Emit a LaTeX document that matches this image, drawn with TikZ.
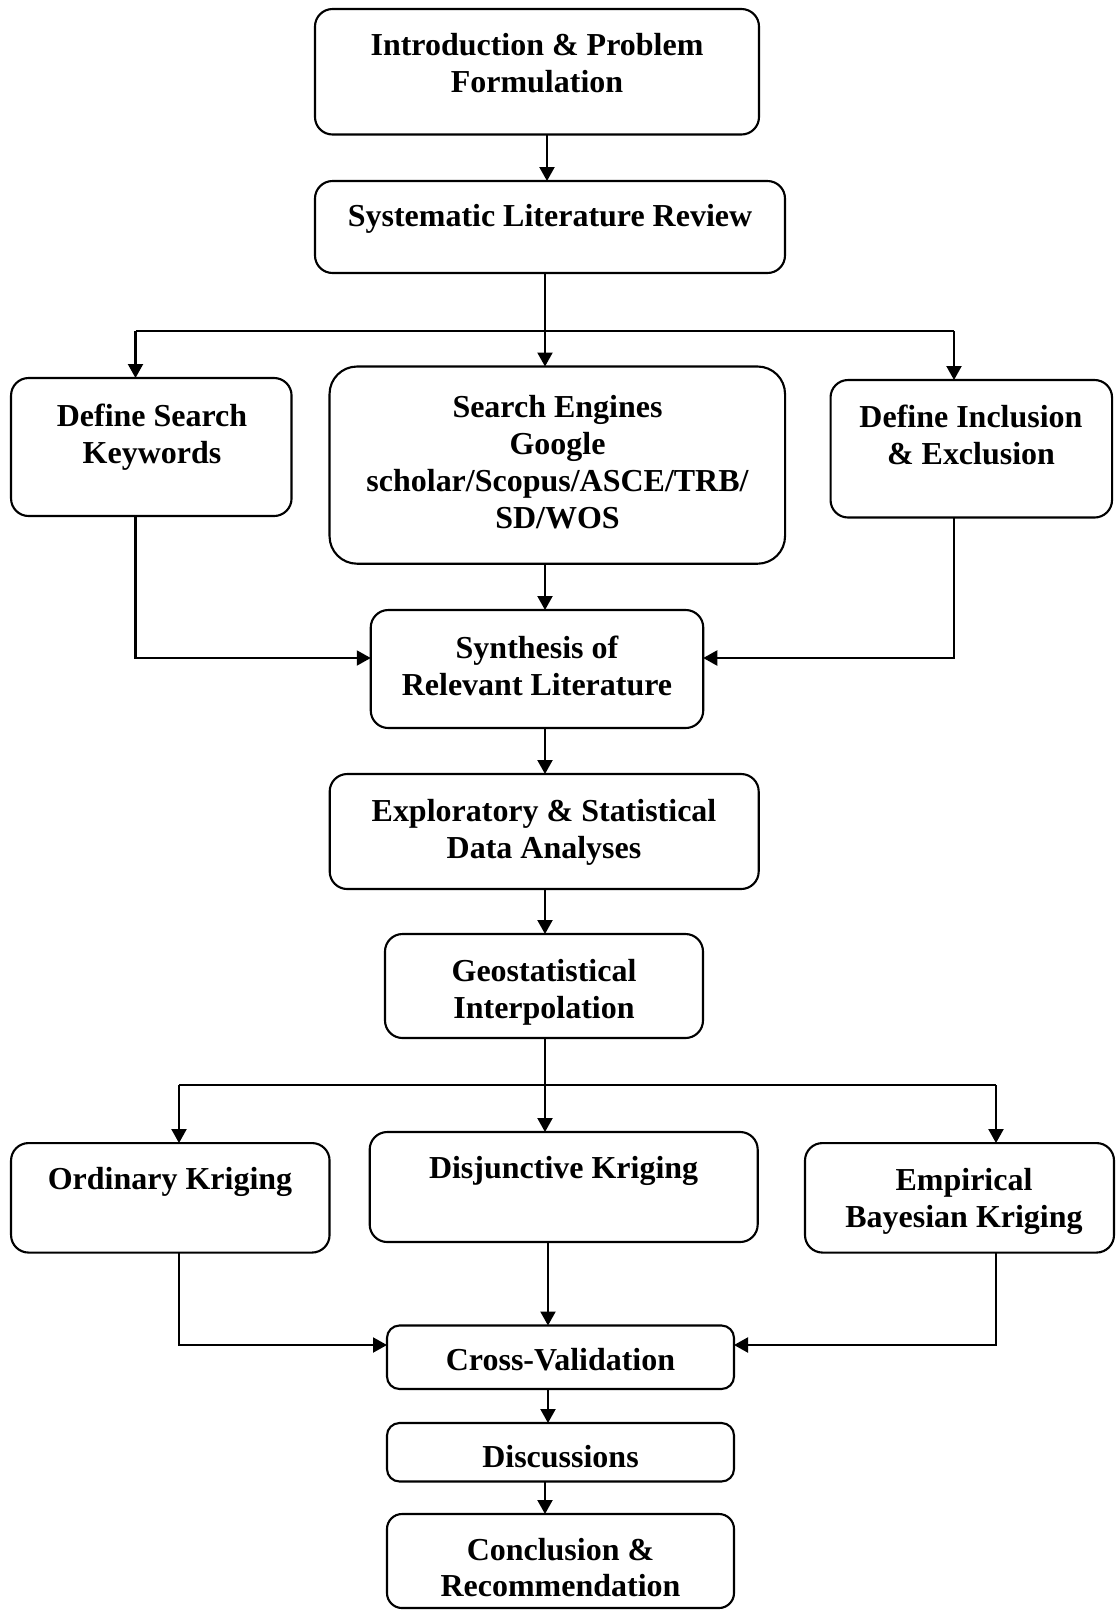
\documentclass[tikz,border=0pt]{standalone}
\usepackage{fontspec}
\setmainfont{Liberation Serif}
\usetikzlibrary{arrows.meta, positioning}

\tikzset{
  box/.style={draw, rounded corners=0.35cm, line width=1.2pt, inner sep=0pt, outer sep=0pt},
  txt/.style={align=center, inner sep=0pt, font=\fontsize{18.2}{21}\selectfont\bfseries},
  arr/.style={-{Triangle[length=0.28cm, width=0.3cm]}, line width=1.2pt},
  ln/.style={line width=1.3pt}
}

\begin{document}
\begin{tikzpicture}[y=-1cm]
        \useasboundingbox (0,0) rectangle (22.32,32.2);

        % boxes
        \node[box, minimum width=8.88cm, minimum height=2.51cm] (intro) at (10.74,1.435) {};
        \node[box, minimum width=9.40cm, minimum height=1.84cm] (slr) at (11.0,4.54) {};
        \node[box, minimum width=5.61cm, minimum height=2.76cm] (keys) at (3.026,8.94) {};
        \node[box, rounded corners=0.55cm, minimum width=9.11cm, minimum height=3.944cm] (engines) at (11.146,9.302) {};
        \node[box, minimum width=5.63cm, minimum height=2.75cm] (incl) at (19.426,8.975) {};
        \node[box, minimum width=6.65cm, minimum height=2.36cm] (synth) at (10.74,13.38) {};
        \node[box, minimum width=8.58cm, minimum height=2.30cm] (explor) at (10.884,16.63) {};
        \node[box, minimum width=6.36cm, minimum height=2.08cm] (geo) at (10.88,19.72) {};
        \node[box, minimum width=6.37cm, minimum height=2.19cm] (ord) at (3.406,23.956) {};
        \node[box, minimum width=7.76cm, minimum height=2.20cm] (disj) at (11.274,23.74) {};
        \node[box, minimum width=6.18cm, minimum height=2.19cm] (emp) at (19.19,23.956) {};
        \node[box, rounded corners=0.25cm, minimum width=6.94cm, minimum height=1.27cm] (cross) at (11.21,27.145) {};
        \node[box, rounded corners=0.25cm, minimum width=6.94cm, minimum height=1.17cm] (disc) at (11.21,29.045) {};
        \node[box, rounded corners=0.3cm, minimum width=6.94cm, minimum height=1.88cm] (concl) at (11.21,31.22) {};

        % texts
        \node[txt] (intro-t) at (10.74,1.27) {Introduction \& Problem\\Formulation};
        \node[txt] (slr-t) at (11.0,4.38) {Systematic Literature Review};
        \node[txt] (keys-t) at (3.04,8.75) {Define Search\\Keywords};
        \node[txt] (engines-t) at (11.15,9.24) {Search Engines\\Google\\scholar/Scopus/ASCE/TRB/\\SD/WOS};
        \node[txt] (incl-t) at (19.42,8.69) {Define Inclusion\\\& Exclusion};
        \node[txt] (synth-t) at (10.74,13.31) {Synthesis of\\Relevant Literature};
        \node[txt] (explor-t) at (10.88,16.64) {Exploratory \& Statistical\\Data Analyses};
        \node[txt] (geo-t) at (10.88,19.85) {Geostatistical\\Interpolation};
        \node[txt] (ord-t) at (3.40,23.635) {Ordinary Kriging};
        \node[txt] (disj-t) at (11.272,23.42) {Disjunctive Kriging};
        \node[txt] (emp-t) at (19.28,24.02) {Empirical\\Bayesian Kriging};
        \node[txt] (cross-t) at (11.21,27.20) {Cross-Validation};
        \node[txt] (disc-t) at (11.21,29.14) {Discussions};
        \node[txt] (concl-t) at (11.21,31.35) {Conclusion \&\\Recommendation};

        % branch points
        \coordinate (colA) at (10.94,0);
        \coordinate (colB) at (10.96,0);
        \coordinate (split1) at (10.90,6.62);
        \coordinate (splitL) at (2.71,6.62);
        \coordinate (splitR) at (19.08,6.62);
        \coordinate (joinY) at (0,13.16);
        \coordinate (split2) at (10.90,21.70);
        \coordinate (split2L) at (3.58,21.70);
        \coordinate (split2R) at (19.92,21.70);
        \coordinate (join2Y) at (0,26.90);

        % connectors
        \draw[arr] (intro.south -| colA) -- (slr.north -| colA);
        \draw[ln] (slr.south -| split1) -- (split1);
        \draw[ln] (splitL) -- (splitR);
        \draw[arr] (splitL) -- (keys.north -| splitL);
        \draw[arr] (split1) -- (engines.north -| split1);
        \draw[arr] (splitR) -- (incl.north -| splitR);
        \draw[arr] (keys.south -| splitL) |- (synth.west |- joinY);
        \draw[arr] (incl.south -| splitR) |- (synth.east |- joinY);
        \draw[arr] (engines.south -| split1) -- (synth.north -| split1);
        \draw[arr] (synth.south -| split1) -- (explor.north -| split1);
        \draw[arr] (explor.south -| split1) -- (geo.north -| split1);
        \draw[ln] (geo.south -| split2) -- (split2);
        \draw[ln] (split2L) -- (split2R);
        \draw[arr] (split2L) -- (ord.north -| split2L);
        \draw[arr] (split2) -- (disj.north -| split2);
        \draw[arr] (split2R) -- (emp.north -| split2R);
        \draw[arr] (ord.south -| split2L) |- (cross.west |- join2Y);
        \draw[arr] (disj.south -| colB) -- (cross.north -| colB);
        \draw[arr] (emp.south -| split2R) |- (cross.east |- join2Y);
        \draw[arr] (cross.south -| colB) -- (disc.north -| colB);
        \draw[arr] (disc.south -| split1) -- (concl.north -| split1);
\end{tikzpicture}
\end{document}
